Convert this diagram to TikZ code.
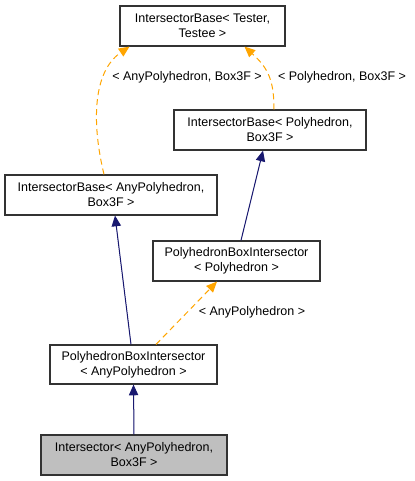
\documentclass[tikz,border=0pt]{standalone}
\usepackage{fontspec}
\setmainfont{Liberation Sans}
\usetikzlibrary{arrows.meta,calc}
\definecolor{navy}{RGB}{25,25,112}
\definecolor{orng}{RGB}{255,165,0}
\definecolor{gfill}{RGB}{191,191,191}
\begin{document}
\begin{tikzpicture}[x=0.75pt,y=-0.75pt,
  cls/.style={draw=black!80,line width=0.9pt,fill=white,align=center,inner sep=0pt,
    font=\fontsize{9.375pt}{11.25pt}\selectfont},
  lbl/.style={inner sep=0pt,font=\fontsize{9.375pt}{11.25pt}\selectfont},
  inh/.style={draw=navy,line width=0.75pt,-{Triangle[length=8pt,width=7pt]},fill=navy},
  tpl/.style={draw=orng,line width=0.75pt,dash pattern=on 4.5pt off 3pt,
    -{Triangle[length=8pt,width=7pt,fill=orng]}}]
\useasboundingbox (0,0) rectangle (414,481);
\node[cls,minimum width=165*0.75pt,minimum height=40*0.75pt] (A) at (202.5,26) {IntersectorBase< Tester,\\Testee >};
\node[cls,minimum width=192*0.75pt,minimum height=40*0.75pt] (B) at (270,130) {IntersectorBase< Polyhedron,\\Box3F >};
\node[cls,minimum width=212*0.75pt,minimum height=40*0.75pt] (C) at (111,195) {IntersectorBase< AnyPolyhedron,\\Box3F >};
\node[cls,minimum width=167*0.75pt,minimum height=40*0.75pt] (D) at (236.5,261) {PolyhedronBoxIntersector\\< Polyhedron >};
\node[cls,minimum width=167*0.75pt,minimum height=39*0.75pt] (E) at (133.5,364.5) {PolyhedronBoxIntersector\\< AnyPolyhedron >};
\node[cls,fill=gfill,minimum width=186*0.75pt,minimum height=40*0.75pt] (F) at (134,455) {Intersector< AnyPolyhedron,\\Box3F >};
\node[lbl] (l1) at (187,77) {< AnyPolyhedron, Box3F >};
\node[lbl] (l2) at (342,77) {< Polyhedron, Box3F >};
\node[lbl] (l3) at (252,312) {< AnyPolyhedron >};
\draw[tpl] ($(C.north)+(-7,0)$) .. controls (92,125) and (92,72) .. ($(A.south)+(-73,0)$);
\draw[tpl] ($(B.north)+(4,0)$) .. controls (274,80) and (268,68) .. ($(A.south)+(42,0)$);
\draw[inh] ($(D.north)+(4.5,0)$) -- ($(B.south)+(-7,0)$);
\draw[inh] ($(E.north)+(-2.5,0)$) -- ($(C.south)+(4,0)$);
\draw[tpl] ($(E.north)+(22.5,0)$) -- ($(D.south)+(-19.5,0)$);
\draw[inh] (F.north) -- (E.south);
\end{tikzpicture}
\end{document}
